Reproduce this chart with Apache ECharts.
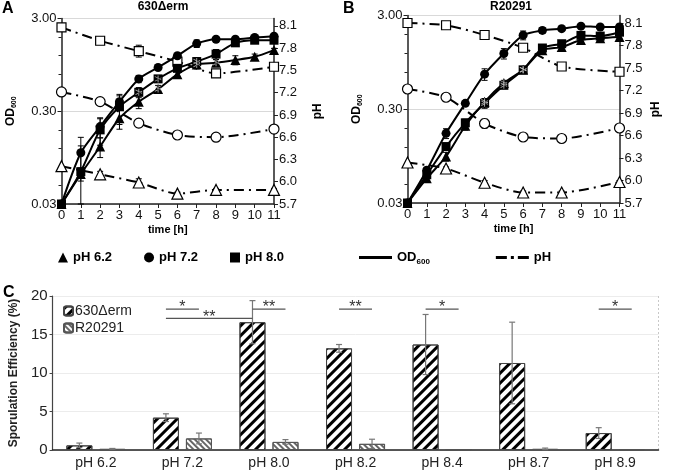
<!DOCTYPE html>
<html>
<head>
<meta charset="utf-8">
<script src="https://cdn.jsdelivr.net/npm/echarts@6/dist/echarts.min.js"></script>
<style>html,body{margin:0;background:#fff}#main{width:675px;height:475px}</style>
</head>
<body>
<div id="main"></div>
<script>
const FONT = "'Liberation Sans', Arial, sans-serif"
const hours = [0, 1, 2, 3, 4, 5, 6, 7, 8, 9, 10, 11]
const phHours = [0, 2, 4, 6, 8, 11]

// A: 630Δerm  OD600
const odA62 = [0.03, 0.063, 0.125, 0.252, 0.38, 0.52, 0.75, 0.96, 1.0, 1.07, 1.16, 1.37]
const odA72 = [0.03, 0.107, 0.205, 0.38, 0.67, 0.89, 1.19, 1.61, 1.79, 1.79, 1.87, 1.93]
const odA80 = [0.03, 0.067, 0.189, 0.336, 0.48, 0.67, 0.87, 1.03, 1.24, 1.64, 1.75, 1.75]
const sdA62 = [0, 0.01, 0.03, 0.06, 0.06, 0.05, 0.06, 0.1, 0.08, 0.12, 0.08, 0.06]
const sdA72 = [0, 0.05, 0.05, 0.06, 0.06, 0.04, 0.05, 0.15, 0.06, 0.05, 0.05, 0.05]
const sdA80 = [0, 0.06, 0.06, 0.12, 0.06, 0.05, 0.06, 0.1, 0.15, 0.1, 0.08, 0.06]
// A: pH
const phA62 = [6.21, 6.10, 5.99, 5.84, 5.89, 5.89]
const phA72 = [7.21, 7.08, 6.79, 6.63, 6.60, 6.71]
const phA80 = [8.08, 7.90, 7.76, 7.62, 7.46, 7.55]
const psdA62 = [0, 0.04, 0.05, 0.02, 0.02, 0.02]
const psdA72 = [0, 0.03, 0.05, 0.02, 0.05, 0.02]
const psdA80 = [0, 0.05, 0.08, 0.03, 0.05, 0.02]

// B: R20291  OD600
const odB62 = [0.03, 0.055, 0.094, 0.2, 0.36, 0.57, 0.79, 1.28, 1.38, 1.64, 1.72, 1.77]
const odB72 = [0.03, 0.067, 0.166, 0.347, 0.71, 1.18, 1.85, 2.08, 2.17, 2.31, 2.26, 2.26]
const odB80 = [0.03, 0.06, 0.12, 0.215, 0.347, 0.54, 0.79, 1.35, 1.5, 1.84, 1.81, 1.99]
const sdB62 = [0, 0.005, 0.01, 0.02, 0.03, 0.04, 0.05, 0.1, 0.1, 0.1, 0.08, 0.08]
const sdB72 = [0, 0.005, 0.02, 0.02, 0.1, 0.15, 0.2, 0.15, 0.05, 0.08, 0.05, 0.05]
const sdB80 = [0, 0.005, 0.01, 0.02, 0.04, 0.04, 0.05, 0.12, 0.12, 0.1, 0.08, 0.08]
// B: pH
const phB62 = [6.24, 6.16, 5.97, 5.84, 5.84, 5.98]
const phB72 = [7.22, 7.11, 6.76, 6.58, 6.56, 6.70]
const phB80 = [8.10, 8.07, 7.94, 7.77, 7.52, 7.45]
const psdB62 = [0, 0.02, 0.03, 0.02, 0.02, 0.02]
const psdB72 = [0, 0.02, 0.06, 0.03, 0.04, 0.02]
const psdB80 = [0, 0.02, 0.03, 0.04, 0.02, 0.02]

// grey significance stars on the growth curves (hours)
const starA80 = [4, 5, 7]
const starA62 = [5, 7, 8]
const starB80 = [4, 5, 6]
const starB62 = [4, 5, 6]

// C: sporulation efficiency
const phCats = ['pH 6.2', 'pH 7.2', 'pH 8.0', 'pH 8.2', 'pH 8.4', 'pH 8.7', 'pH 8.9']
const sporErm = [0.6, 4.2, 16.6, 13.2, 13.7, 11.3, 2.2]
const sporErmSd = [0.3, 0.5, 2.8, 0.5, 3.9, 5.3, 0.7]
const sporR20 = [0.15, 1.5, 1.05, 0.8, 0.1, 0.15, 0.1]
const sporR20Sd = [0.05, 0.7, 0.3, 0.6, 0, 0.1, 0]
const sigPairs = [[1, 0, 1, 1], [1, 0, 2, 0], [2, 0, 2, 1], [3, 0, 3, 1], [4, 0, 4, 1], [6, 0, 6, 1]]
const sigLevel = [18.3, 17.1, 18.3, 18.3, 18.3, 18.3]
const sigText = ['*', '**', '**', '**', '*', '*']

const BAR_W = 26
const OFF = 16.5
const ly = v => Math.log10(v / 0.03)

const chart = echarts.init(document.getElementById('main'))

const odLine = (name, vals, sym, size, i) => ({
  name, type: 'line', xAxisIndex: i, yAxisIndex: i * 2,
  data: hours.map((t, k) => [t, ly(vals[k])]),
  symbol: sym, symbolSize: size, smooth: 0.25, z: 4,
  lineStyle: { color: '#000', width: 2 }, itemStyle: { color: '#000' }
})
const phLine = (name, vals, sym, size, i) => ({
  name, type: 'line', xAxisIndex: i, yAxisIndex: i * 2 + 1,
  data: phHours.map((t, k) => [t, vals[k]]),
  symbol: sym, symbolSize: size, smooth: 0.25, z: 3,
  lineStyle: { color: '#000', width: 2, type: [10, 5, 2, 5] },
  itemStyle: { color: '#fff', borderColor: '#000', borderWidth: 1.2 }
})
const odErr = (vals, sds) => hours.filter((t, k) => sds[k] > 0)
  .map(t => [t, ly(Math.max(vals[t] - sds[t], 0.03)), ly(vals[t] + sds[t])])
const phErr = (vals, sds) => phHours.map((t, k) => [t, vals[k] - sds[k], vals[k] + sds[k]]).filter((d, k) => sds[k] > 0)
const errSeries = (xi, yi, data) => ({
  type: 'custom', xAxisIndex: xi, yAxisIndex: yi, z: 2, silent: true, data,
  renderItem: (params, api) => {
    const lo = api.coord([api.value(0), api.value(1)])
    const hi = api.coord([api.value(0), api.value(2)])
    const s = { stroke: '#000', lineWidth: 1 }
    return { type: 'group', children: [
      { type: 'line', shape: { x1: lo[0], y1: lo[1], x2: hi[0], y2: hi[1] }, style: s },
      { type: 'line', shape: { x1: lo[0] - 3, y1: lo[1], x2: lo[0] + 3, y2: lo[1] }, style: s },
      { type: 'line', shape: { x1: hi[0] - 3, y1: hi[1], x2: hi[0] + 3, y2: hi[1] }, style: s }
    ] }
  }
})
const starSym = 'path://M4.4,0h1.2v10h-1.2z M0.4,2.1l0.6,-1l8.6,5l-0.6,1z M0.4,7.9l0.6,1l8.6,-5l-0.6,-1z'
const starSeries = (i, pts) => ({
  type: 'scatter', xAxisIndex: i, yAxisIndex: i * 2, z: 6, silent: true,
  symbol: starSym, symbolSize: 7, itemStyle: { color: '#d0d0d0' }, data: pts
})

const xAxisTime = (gi) => ({
  type: 'value', gridIndex: gi, min: 0, max: 11, interval: 1,
  name: 'time [h]', nameLocation: 'middle', nameGap: 20,
  nameTextStyle: { fontFamily: FONT, fontWeight: 'bold', fontSize: 11, color: '#000' },
  axisLine: { lineStyle: { color: '#222', width: 1.5 } },
  axisTick: { length: 4, lineStyle: { color: '#222' } },
  axisLabel: { fontFamily: FONT, fontSize: 13, color: '#111', margin: 5 },
  splitLine: { show: false }
})
const yAxisOd = (gi) => ({
  type: 'value', gridIndex: gi, min: 0, max: 2, interval: 1,
  name: '{b|OD}{s|600}', nameLocation: 'middle', nameGap: 44, nameRotate: 90,
  nameTextStyle: { rich: {
    b: { fontFamily: FONT, fontWeight: 'bold', fontSize: 12, color: '#000', lineHeight: 14 },
    s: { fontFamily: FONT, fontWeight: 'bold', fontSize: 7, color: '#000', lineHeight: 7, verticalAlign: 'bottom' }
  } },
  axisLine: { show: true, lineStyle: { color: '#222', width: 1.5 } },
  axisTick: { length: 4, lineStyle: { color: '#222' } },
  minorTick: { show: true, splitNumber: 5, length: 3, lineStyle: { color: '#222' } },
  axisLabel: { fontFamily: FONT, fontSize: 13, color: '#111', margin: 5,
    formatter: v => (0.03 * Math.pow(10, v)).toFixed(2) },
  splitLine: { show: true, lineStyle: { color: '#d9d9d9' } }
})
const yAxisPh = (gi, gap) => ({
  type: 'value', gridIndex: gi, position: 'right', min: 5.7, max: 8.2, interval: 0.3,
  name: 'pH', nameLocation: 'middle', nameGap: gap, nameRotate: 90,
  nameTextStyle: { fontFamily: FONT, fontWeight: 'bold', fontSize: 12, color: '#000' },
  axisLine: { show: true, lineStyle: { color: '#222', width: 1.5 } },
  axisTick: { length: 4, lineStyle: { color: '#222' } },
  axisLabel: { fontFamily: FONT, fontSize: 13, color: '#111', margin: 5, showMaxLabel: false,
    formatter: v => v.toFixed(1) },
  splitLine: { show: false }
})

const option = {
  animation: false,
  backgroundColor: '#fff',
  title: [
    { text: 'A', left: 2, top: 1, padding: 0, textStyle: { fontFamily: FONT, fontWeight: 'bold', fontSize: 16, color: '#000' } },
    { text: 'B', left: 343, top: 1, padding: 0, textStyle: { fontFamily: FONT, fontWeight: 'bold', fontSize: 16, color: '#000' } },
    { text: 'C', left: 3, top: 285, padding: 0, textStyle: { fontFamily: FONT, fontWeight: 'bold', fontSize: 16, color: '#000' } },
    { text: '630Δerm', left: 163, top: 1, padding: 0, textAlign: 'center', textStyle: { fontFamily: FONT, fontWeight: 'bold', fontSize: 12, color: '#000' } },
    { text: 'R20291', left: 511, top: 1, padding: 0, textAlign: 'center', textStyle: { fontFamily: FONT, fontWeight: 'bold', fontSize: 12, color: '#000' } }
  ],
  legend: [
    { data: [{ name: 'pH 6.2', icon: 'triangle' }, { name: 'pH 7.2', icon: 'circle' }, { name: 'pH 8.0', icon: 'rect' }],
      left: 53, top: 246, itemWidth: 10, itemHeight: 10, itemGap: 32, selectedMode: false,
      itemStyle: { color: '#000', borderWidth: 0 },
      textStyle: { fontFamily: FONT, fontWeight: 'bold', fontSize: 13, color: '#000' } },
    { data: [{ name: 'OD600', icon: 'path://M0,0H33V3H0Z' }, { name: 'pH', icon: 'path://M0,0H11V3H0Z M15,0H18V3H15Z M22,0H33V3H22Z' }],
      left: 354, top: 246, itemWidth: 33, itemHeight: 3, itemGap: 66, selectedMode: false,
      itemStyle: { color: '#000', borderWidth: 0 },
      formatter: n => n === 'OD600' ? '{b|OD}{s|600}' : '{b|pH}',
      textStyle: { rich: {
        b: { fontFamily: FONT, fontWeight: 'bold', fontSize: 13, color: '#000', lineHeight: 16 },
        s: { fontFamily: FONT, fontWeight: 'bold', fontSize: 8, color: '#000', lineHeight: 8, verticalAlign: 'bottom' }
      } } },
    { data: ['630Δerm', 'R20291'], orient: 'vertical', left: 58, top: 299, itemWidth: 9, itemHeight: 9,
      itemGap: 3, selectedMode: false,
      textStyle: { fontFamily: FONT, fontSize: 14, color: '#222', padding: [0, 0, 0, -3] } }
  ],
  grid: [
    { left: 61.5, top: 18.5, width: 212.5, height: 185.5 },
    { left: 407.5, top: 15.5, width: 212, height: 187.5 },
    { left: 51.5, top: 296, width: 607, height: 154 }
  ],
  xAxis: [
    xAxisTime(0),
    xAxisTime(1),
    { type: 'category', gridIndex: 2, data: phCats,
      axisLine: { lineStyle: { color: '#222', width: 1.5 } },
      axisTick: { show: false },
      axisLabel: { fontFamily: FONT, fontSize: 14, color: '#222', margin: 6 },
      splitLine: { show: true, interval: (idx) => idx === 3, lineStyle: { color: '#c8c8c8', type: [2, 2] } } }
  ],
  yAxis: [
    yAxisOd(0), yAxisPh(0, 38),
    yAxisOd(1), yAxisPh(1, 30),
    { type: 'value', gridIndex: 2, min: 0, max: 20, interval: 5,
      name: 'Sporulation Efficiency (%)', nameLocation: 'middle', nameGap: 31, nameRotate: 90,
      nameTextStyle: { fontFamily: FONT, fontWeight: 'bold', fontSize: 12, color: '#222' },
      axisLine: { show: true, lineStyle: { color: '#444', width: 1.2 } },
      axisTick: { show: true, length: 3, lineStyle: { color: '#444' } },
      axisLabel: { fontFamily: FONT, fontSize: 15, color: '#222', margin: 5 },
      splitLine: { show: true, lineStyle: { color: '#ececec' } } }
  ],
  series: [
    odLine('pH 6.2', odA62, 'triangle', 10, 0),
    odLine('pH 7.2', odA72, 'circle', 9, 0),
    odLine('pH 8.0', odA80, 'rect', 9, 0),
    phLine('pH 6.2', phA62, 'triangle', 11, 0),
    phLine('pH 7.2', phA72, 'circle', 10, 0),
    phLine('pH 8.0', phA80, 'rect', 9, 0),
    errSeries(0, 0, [...odErr(odA62, sdA62), ...odErr(odA72, sdA72), ...odErr(odA80, sdA80)]),
    errSeries(0, 1, [...phErr(phA62, psdA62), ...phErr(phA72, psdA72), ...phErr(phA80, psdA80)]),
    starSeries(0, [...starA80.map(t => [t, ly(odA80[t])]), ...starA62.map(t => [t, ly(odA62[t])])]),

    odLine('OD600', odB62, 'triangle', 10, 1),
    odLine('OD600', odB72, 'circle', 9, 1),
    odLine('OD600', odB80, 'rect', 9, 1),
    phLine('pH', phB62, 'triangle', 11, 1),
    phLine('pH', phB72, 'circle', 10, 1),
    phLine('pH', phB80, 'rect', 9, 1),
    errSeries(1, 2, [...odErr(odB62, sdB62), ...odErr(odB72, sdB72), ...odErr(odB80, sdB80)]),
    errSeries(1, 3, [...phErr(phB62, psdB62), ...phErr(phB72, psdB72), ...phErr(phB80, psdB80)]),
    starSeries(1, [...starB80.map(t => [t, ly(odB80[t])]), ...starB62.map(t => [t, ly(odB62[t])])]),

    { name: '630Δerm', type: 'bar', xAxisIndex: 2, yAxisIndex: 4, data: sporErm,
      barWidth: BAR_W, barGap: '27%',
      itemStyle: { color: '#fff', borderColor: '#444', borderWidth: 1,
        decal: { symbol: 'rect', symbolSize: 1, dashArrayX: [1, 0], dashArrayY: [3, 4], rotation: -Math.PI / 4, color: '#000' } } },
    { name: 'R20291', type: 'bar', xAxisIndex: 2, yAxisIndex: 4, data: sporR20,
      barWidth: BAR_W, barGap: '27%',
      itemStyle: { color: '#fff', borderColor: '#555', borderWidth: 1,
        decal: { symbol: 'rect', symbolSize: 1, dashArrayX: [1, 0], dashArrayY: [1.5, 2], rotation: Math.PI / 4, color: '#666' } } },
    { type: 'custom', xAxisIndex: 2, yAxisIndex: 4, z: 5, silent: true,
      data: [...sporErm.map((v, k) => [k, v, sporErmSd[k], 0]), ...sporR20.map((v, k) => [k, v, sporR20Sd[k], 1])]
        .filter(d => d[2] > 0),
      renderItem: (params, api) => {
        const c = api.value(0), v = api.value(1), e = api.value(2)
        const dx = api.value(3) ? OFF : -OFF
        const hi = api.coord([c, v + e]), lo = api.coord([c, Math.max(v - e, 0)])
        const x = hi[0] + dx
        const s = { stroke: '#777', lineWidth: 1.2 }
        return { type: 'group', children: [
          { type: 'line', shape: { x1: x, y1: lo[1], x2: x, y2: hi[1] }, style: s },
          { type: 'line', shape: { x1: x - 3, y1: hi[1], x2: x + 3, y2: hi[1] }, style: s },
          { type: 'line', shape: { x1: x - 3, y1: lo[1], x2: x + 3, y2: lo[1] }, style: s }
        ] }
      } },
    { type: 'custom', xAxisIndex: 2, yAxisIndex: 4, z: 5, silent: true,
      data: sigPairs.map((p, k) => [...p, sigLevel[k]]),
      renderItem: (params, api) => {
        const y = api.value(4)
        const a = api.coord([api.value(0), y]), b = api.coord([api.value(2), y])
        const x1 = a[0] + (api.value(1) ? OFF : -OFF), x2 = b[0] + (api.value(3) ? OFF : -OFF)
        return { type: 'group', children: [
          { type: 'line', shape: { x1, y1: a[1], x2, y2: a[1] }, style: { stroke: '#555', lineWidth: 1.2 } },
          { type: 'text', style: { text: sigText[params.dataIndex], x: (x1 + x2) / 2, y: a[1] + 7,
            align: 'center', verticalAlign: 'bottom', fill: '#333', font: '16px ' + FONT } }
        ] }
      } }
  ]
}
chart.setOption(option)
</script>
</body>
</html>
